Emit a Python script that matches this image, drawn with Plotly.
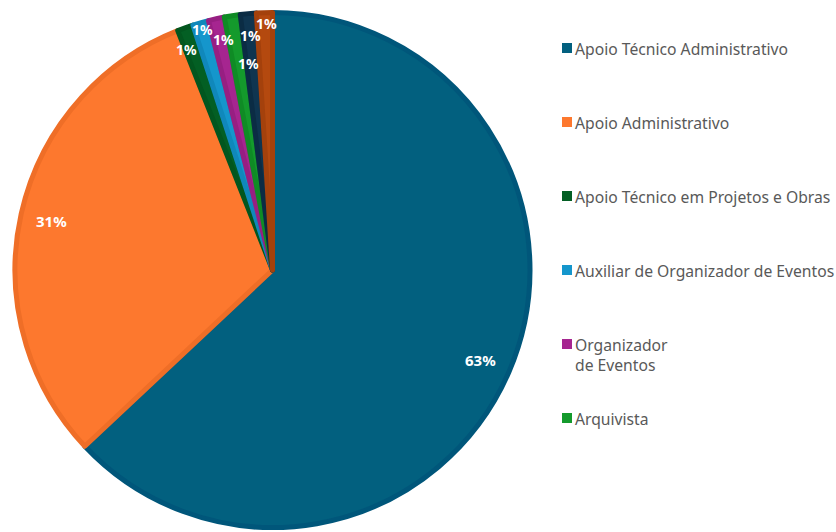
import math
import plotly.graph_objects as go

labels = [
    "Apoio Técnico Administrativo",
    "Apoio Administrativo",
    "Apoio Técnico em Projetos e Obras",
    "Auxiliar de Organizador de Eventos",
    "Organizador<br>de Eventos",
    "Arquivista",
    "Outro cargo A",
    "Outro cargo B",
]
values = [63, 31, 1, 1, 1, 1, 1, 1]
pct_text = ["63%", "31%", "1%", "1%", "1%", "1%", "1%", "1%"]
legend_count = 6  # legend in the reference is truncated after six entries

fill_colors = ["#02607f", "#fd782e", "#035f24", "#1596cc", "#a62590",
               "#149a2c", "#0f3550", "#b4490f"]
edge_colors = ["#00567a", "#ef6e27", "#02561f", "#1088bb", "#971f82",
               "#0f8b25", "#0b2c44", "#a4410c"]

# label placement style (fraction of radius, angle nudge in degrees, size)
label_rfrac = [0.87, 0.87, 0.91, 0.965, 0.905, 0.80, 0.905, 0.95]
label_nudge = [0, 0, -1.6, 0.0, 0.5, 2.3, 0, 0.5]
label_size = [15, 15, 14, 14, 14, 14, 14, 14]

W, H = 836, 532
cx, cy = 272.5, 270.0      # pie centre in px (from top-left)
R_plot = 257.5
line_w = 5
R_vis = R_plot + line_w / 2

fig = go.Figure()
fig.add_trace(go.Pie(
    labels=labels,
    values=values,
    sort=False,
    direction="clockwise",
    rotation=0,
    textinfo="none",
    hoverinfo="label+percent",
    showlegend=False,
    marker=dict(colors=fill_colors, line=dict(color=edge_colors, width=line_w)),
    domain=dict(x=[(cx - R_plot) / W, (cx + R_plot) / W],
                y=[(H - cy - R_plot) / H, (H - cy + R_plot) / H]),
))

annotations = []
shapes = []
total = sum(values)
cum = 0.0
for i, v in enumerate(values):
    mid = (cum + v / 2) / total * 360 + label_nudge[i]
    cum += v
    r = R_vis * label_rfrac[i]
    px = cx + r * math.sin(math.radians(mid))
    py = cy - r * math.cos(math.radians(mid))
    annotations.append(dict(
        x=px / W, y=1 - py / H, xref="paper", yref="paper",
        text=pct_text[i], showarrow=False,
        font=dict(family="Noto Sans", size=label_size[i], color="white", weight="bold"),
        xanchor="center", yanchor="middle",
    ))

# legend (drawn manually so that only the first six entries appear)
leg_x0 = 562
leg_y0 = 48
leg_step = 74
for i in range(legend_count):
    yy = leg_y0 + leg_step * i
    shapes.append(dict(
        type="rect", xref="paper", yref="paper",
        x0=leg_x0 / W, x1=(leg_x0 + 10) / W,
        y0=1 - (yy + 5) / H, y1=1 - (yy - 5) / H,
        fillcolor=fill_colors[i], line=dict(width=0),
    ))
    annotations.append(dict(
        x=(leg_x0 + 11) / W, y=1 - (yy - 12) / H, xref="paper", yref="paper",
        text=labels[i], showarrow=False, align="left",
        xanchor="left", yanchor="top",
        font=dict(family="Noto Sans", size=15.7, color="#595959"),
    ))

fig.update_layout(
    width=W, height=H,
    margin=dict(l=0, r=0, t=0, b=0),
    paper_bgcolor="white",
    plot_bgcolor="white",
    annotations=annotations,
    shapes=shapes,
)

fig.write_html("out.html", config={"displayModeBar": False},
               post_script="document.body.style.margin='0';")
